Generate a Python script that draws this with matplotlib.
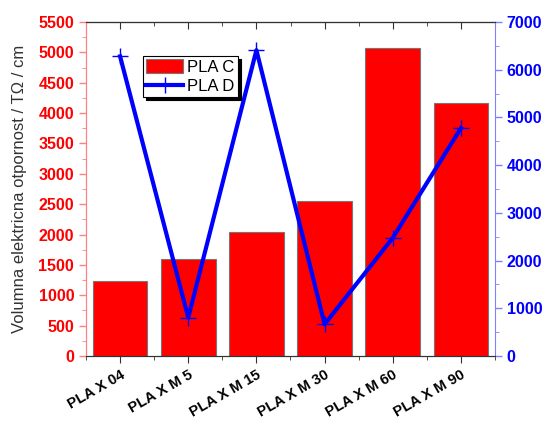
import matplotlib.pyplot as plt
import numpy as np
from matplotlib.ticker import MultipleLocator

plt.rcParams["font.family"] = ["Liberation Sans", "DejaVu Sans"]

samples = ["PLA X 04", "PLA X M 5", "PLA X M 15", "PLA X M 30", "PLA X M 60", "PLA X M 90"]
pla_c = [1235, 1605, 2035, 2545, 5075, 4165]
pla_d = [6280, 805, 6410, 665, 2475, 4775]

fig = plt.figure(figsize=(5.57, 4.25), dpi=100)
ax = fig.add_axes([86 / 557, 1 - 356 / 425, (495 - 86) / 557, (356 - 22) / 425])
ax2 = ax.twinx()

x = np.arange(len(samples))
bars = ax.bar(x, pla_c, width=0.8, color="#ff0000", edgecolor="#777777", linewidth=0.8,
              label="PLA C", zorder=2)
line, = ax2.plot(x, pla_d, color="#0000ff", linewidth=3, marker="+", markersize=11,
                 markeredgewidth=1.0, label="PLA D", zorder=3)

ax.set_xlim(-0.5, 5.5)
ax.set_ylim(0, 5500)
ax2.set_ylim(0, 7000)

ax.yaxis.set_major_locator(MultipleLocator(500))
ax.yaxis.set_minor_locator(MultipleLocator(250))
ax2.yaxis.set_major_locator(MultipleLocator(1000))
ax2.yaxis.set_minor_locator(MultipleLocator(500))
ax.xaxis.set_minor_locator(MultipleLocator(0.5))

ax.set_xticks(x)
ax.set_xticklabels(samples, rotation=30, ha="right", rotation_mode="anchor",
                   fontweight="bold", fontsize=10.5)

for lab in ax.get_yticklabels():
    lab.set_fontweight("bold")
for lab in ax2.get_yticklabels():
    lab.set_fontweight("bold")

ax.tick_params(axis="y", colors="#ff0000", labelsize=11.5, length=5, width=1, direction="out")
ax.tick_params(axis="y", which="minor", colors="#ff8080", length=3, direction="out")
ax.tick_params(axis="y", which="major", color="#ff8080")
ax2.tick_params(axis="y", colors="#0000ff", labelsize=11.5, length=5, width=1, direction="out")
ax2.tick_params(axis="y", which="minor", colors="#8080ff", length=3, direction="out")
ax2.tick_params(axis="y", which="major", color="#8080ff")
ax.tick_params(axis="x", which="both", top=False, bottom=True, direction="out",
               length=5, color="#333333")
ax.tick_params(axis="x", which="minor", length=3)

# top axis ticks point inward, no labels
top = ax.secondary_xaxis("top")
top.set_xticks(x)
top.xaxis.set_minor_locator(MultipleLocator(0.5))
top.tick_params(axis="x", which="both", direction="in", length=5, color="#333333",
                labeltop=False)
top.tick_params(axis="x", which="minor", length=3)
top.spines["top"].set_color("#333333")

ax.spines["left"].set_color("#ff8080")
ax2.spines["left"].set_color("#ff8080")
ax2.spines["right"].set_color("#8080ff")
ax.spines["right"].set_visible(False)
for s in ("top", "bottom"):
    ax.spines[s].set_color("#333333")
    ax2.spines[s].set_color("#333333")

ax.set_ylabel("Volumna elektricna otpornost / TΩ / cm", fontsize=12, color="#333333",
              labelpad=8)

leg = ax2.legend([bars, line], ["PLA C", "PLA D"], loc="upper left",
                 bbox_to_anchor=(143 / 557, 1 - 56 / 425), bbox_transform=fig.transFigure,
                 fancybox=False, edgecolor="black", framealpha=1, fontsize=12,
                 shadow={"color": "black", "alpha": 1}, borderpad=0.2,
                 handlelength=2.2, handleheight=0.9, handletextpad=0.25,
                 labelspacing=0.2, borderaxespad=0)
leg.get_frame().set_linewidth(0.8)

fig.savefig("out.png", dpi=100)
